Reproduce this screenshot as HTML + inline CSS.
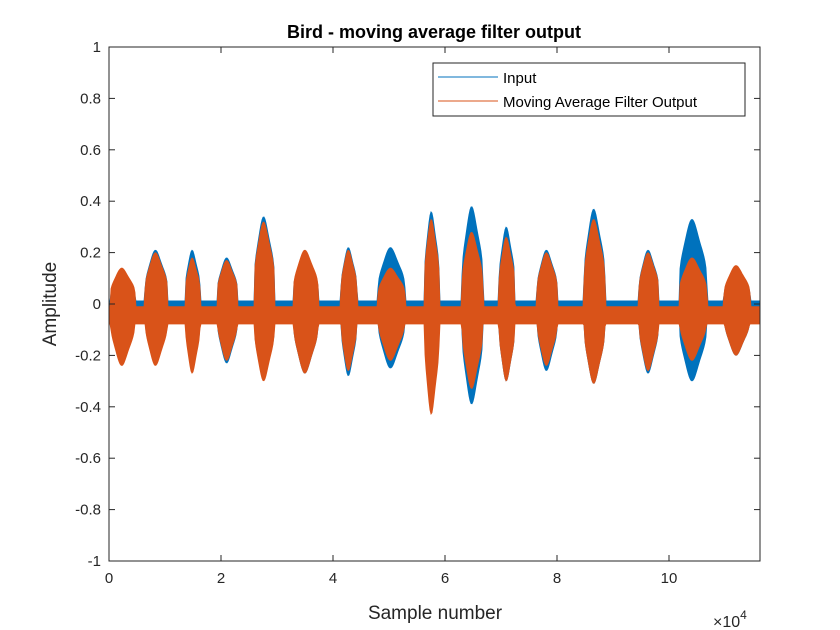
<!DOCTYPE html>
<html><head><meta charset="utf-8"><style>
body{margin:0;background:#fff}
svg{display:block;font-family:"Liberation Sans",Arial,sans-serif}
</style></head><body>
<svg id="chart" width="840" height="630">
<rect width="840" height="630" fill="#fff"/>
<text x="434" y="38" text-anchor="middle" font-size="18" font-weight="bold" fill="#000">Bird - moving average filter output</text>
<g id="plot"></g>
<g id="axes"></g>
<text x="435" y="619" text-anchor="middle" font-size="19" fill="#262626">Sample number</text>
<text transform="translate(56,304) rotate(-90)" text-anchor="middle" font-size="19" fill="#262626">Amplitude</text>
<text x="713" y="627" font-size="16" fill="#262626">×10<tspan dy="-8" font-size="12">4</tspan></text>
<g>
<rect x="433" y="63" width="312" height="53" fill="#fff" stroke="#262626" stroke-width="1"/>
<line x1="438" y1="77" x2="498" y2="77" stroke="#0072BD" stroke-width="1"/>
<text x="503" y="83" font-size="15" fill="#000">Input</text>
<line x1="438" y1="101" x2="498" y2="101" stroke="#D95319" stroke-width="1"/>
<text x="503" y="107" font-size="15" fill="#000">Moving Average Filter Output</text>
</g>
</svg>
<script>
// burst data (samples, amplitudes)
const burstStart = [200,6400,13600,19300,25900,32900,41400,48000,56300,63000,69600,76400,84800,94600,101800,109800];
const burstEnd   = [4700,10500,16300,23000,29600,37400,44300,52900,59000,66800,72500,80100,88600,98200,106800,114500];
const inUpper  = [0.10,0.21,0.21,0.18,0.34,0.20,0.22,0.22,0.36,0.38,0.30,0.21,0.37,0.21,0.33,0.14];
const inLower  = [-0.20,-0.23,-0.25,-0.23,-0.29,-0.27,-0.28,-0.25,-0.33,-0.39,-0.30,-0.26,-0.31,-0.27,-0.30,-0.20];
const outUpper = [0.14,0.20,0.18,0.17,0.32,0.21,0.21,0.14,0.33,0.28,0.26,0.20,0.33,0.20,0.18,0.15];
const outLower = [-0.24,-0.24,-0.27,-0.22,-0.30,-0.27,-0.26,-0.22,-0.43,-0.33,-0.30,-0.24,-0.31,-0.26,-0.22,-0.20];
const quietIn = [0.012,-0.02];
const quietOut = [-0.01,-0.078];
const xTicks = [0,2,4,6,8,10];
const yTicks = [-1,-0.8,-0.6,-0.4,-0.2,0,0.2,0.4,0.6,0.8,1];
const xMax = 116250;

const L=109,R=760,T=47,B=561;
const sx=v=>L+v/xMax*(R-L);
const sy=v=>B-(v+1)/2*(B-T);
const NS="http://www.w3.org/2000/svg";
const plot=document.getElementById('plot'), axes=document.getElementById('axes');

function env(x,up,lo,q){
  let u=q[0],l=q[1];
  for(let i=0;i<burstStart.length;i++){
    if(x>=burstStart[i]&&x<=burstEnd[i]){
      const t=(x-burstStart[i])/(burstEnd[i]-burstStart[i]);
      const base=Math.pow(Math.sin(Math.PI*t),0.25);
      const peak=Math.exp(-Math.pow((t-0.45)/0.25,2));
      const s=base*(0.72+0.28*peak);
      u=Math.max(u,up[i]*s); l=Math.min(l,lo[i]*s);
    }
  }
  return [u,l];
}
function drawSeries(up,lo,q,color,name){
  let top=[],bot=[];
  for(let px=L;px<=R;px+=1){
    const x=(px-L)/(R-L)*xMax;
    const e=env(x,up,lo,q);
    top.push(px+","+sy(e[0]).toFixed(1));
    bot.unshift(px+","+sy(e[1]).toFixed(1));
  }
  const p=document.createElementNS(NS,'polygon');
  p.setAttribute('points',top.concat(bot).join(' '));
  p.setAttribute('fill',color);
  p.setAttribute('stroke',color);
  p.setAttribute('stroke-width','0.8');
  
  
  plot.appendChild(p);
}
drawSeries(inUpper,inLower,quietIn,'#0072BD','input-series');
drawSeries(outUpper,outLower,quietOut,'#D95319','output-series');

const box=document.createElementNS(NS,'rect');
box.setAttribute('x',L);box.setAttribute('y',T);box.setAttribute('width',R-L);box.setAttribute('height',B-T);
box.setAttribute('fill','none');box.setAttribute('stroke','#262626');box.setAttribute('stroke-width','1');


axes.appendChild(box);

function ln(x1,y1,x2,y2){
  const l=document.createElementNS(NS,'line');
  l.setAttribute('x1',x1);l.setAttribute('y1',y1);l.setAttribute('x2',x2);l.setAttribute('y2',y2);
  l.setAttribute('stroke','#262626');
  
  
  axes.appendChild(l);
}
function tx(x,y,s,anchor,name){
  const t=document.createElementNS(NS,'text');
  t.setAttribute('x',x);t.setAttribute('y',y);t.setAttribute('text-anchor',anchor);
  t.setAttribute('font-size','15');t.setAttribute('fill','#262626');
  t.textContent=s;
  
  
  axes.appendChild(t);
}
xTicks.forEach(v=>{
  const x=sx(v*1e4);
  ln(x,B,x,B-6);ln(x,T,x,T+6);
  tx(x,B+22,String(v),'middle','x-tick-label');
});
yTicks.forEach(v=>{
  const y=sy(v);
  ln(L,y,L+6,y);ln(R,y,R-6,y);
  tx(L-8,y+5,String(Math.round(v*10)/10),'end','y-tick-label');
});
</script>
</body></html>
